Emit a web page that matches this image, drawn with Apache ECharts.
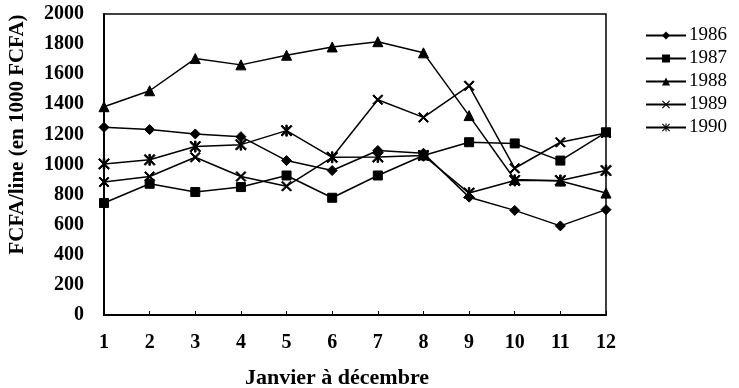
<!DOCTYPE html>
<html><head><meta charset="utf-8">
<script src="https://cdn.jsdelivr.net/npm/echarts@6/dist/echarts.min.js"></script>
<style>html,body{margin:0;padding:0;background:#fff}#c{width:739px;height:388px}</style>
</head><body><div id="c"></div>
<script>
const months = ['1','2','3','4','5','6','7','8','9','10','11','12'];
const s1986 = [1247,1232,1203,1185,1026,960,1093,1075,783,695,592,700];
const s1987 = [744,872,817,850,927,779,927,1060,1148,1140,1026,1214];
const s1988 = [1384,1490,1704,1662,1726,1781,1816,1742,1325,900,890,810];
const s1989 = [883,920,1048,920,856,1048,1430,1313,1523,975,1148,1210];
const s1990 = [1004,1031,1119,1132,1225,1048,1050,1060,810,894,894,960];
const seriesNames = ['1986','1987','1988','1989','1990'];

const X = 'path://M0,1 L1,0 L5,4 L9,0 L10,1 L6,5 L10,9 L9,10 L5,6 L1,10 L0,9 L4,5 Z';
const STAR = 'path://M0,1 L1,0 L4.3,3.3 L4.3,0 L5.7,0 L5.7,3.3 L9,0 L10,1 L6,5 L10,9 L9,10 L5.7,6.7 L5.7,10 L4.3,10 L4.3,6.7 L1,10 L0,9 L4,5 Z';
const symbols = ['diamond','rect',"triangle",X,STAR];
const sizes = [10,9,10,10,11];
const data = [s1986,s1987,s1988,s1989,s1990];

const chart = echarts.init(document.getElementById('c'));
const font = '"Liberation Serif", "Times New Roman", serif';
chart.setOption({
  animation:false,
  backgroundColor:'#fff',
  grid:{left:104,right:133,top:14,bottom:73,show:true,borderColor:'#000',borderWidth:1.5,containLabel:false,outerBoundsMode:'none'},
  legend:{
    orient:'vertical', left:640, top:21, itemGap:4, itemWidth:40, itemHeight:10,
    textStyle:{fontFamily:font,fontSize:19,color:'#000',padding:[0,0,0,-2]},
    data:seriesNames
  },
  xAxis:{
    type:'category', data:months, boundaryGap:false,
    axisLine:{lineStyle:{color:'#000',width:2}},
    axisTick:{inside:true,length:4,lineStyle:{color:'#000'}},
    axisLabel:{fontFamily:font,fontWeight:'bold',fontSize:20,color:'#000',margin:18},
    name:'Janvier à décembre', nameLocation:'middle', nameGap:52,
    nameTextStyle:{fontFamily:font,fontWeight:'bold',fontSize:22,color:'#000',padding:[0,36,0,0]}
  },
  yAxis:{
    type:'value', min:0, max:2000, interval:200,
    splitLine:{show:false},
    axisLine:{show:true,lineStyle:{color:'#000',width:2}},
    axisTick:{show:false},
    axisLabel:{fontFamily:font,fontWeight:'bold',fontSize:20,color:'#000',margin:20,formatter:v=>String(v)},
    name:'FCFA/line (en 1000 FCFA)', nameLocation:'middle', nameGap:76,
    nameTextStyle:{fontFamily:font,fontWeight:'bold',fontSize:21,color:'#000',padding:[0,0,0,60]}
  },
  series: data.map((d,i)=>({
    name:seriesNames[i], type:'line', data:d,
    symbol:symbols[i], symbolSize:sizes[i], showAllSymbol:true,
    lineStyle:{color:'#000',width:1.5},
    itemStyle:{color:'#000',borderColor:'#000'}
  }))
});
</script></body></html>
